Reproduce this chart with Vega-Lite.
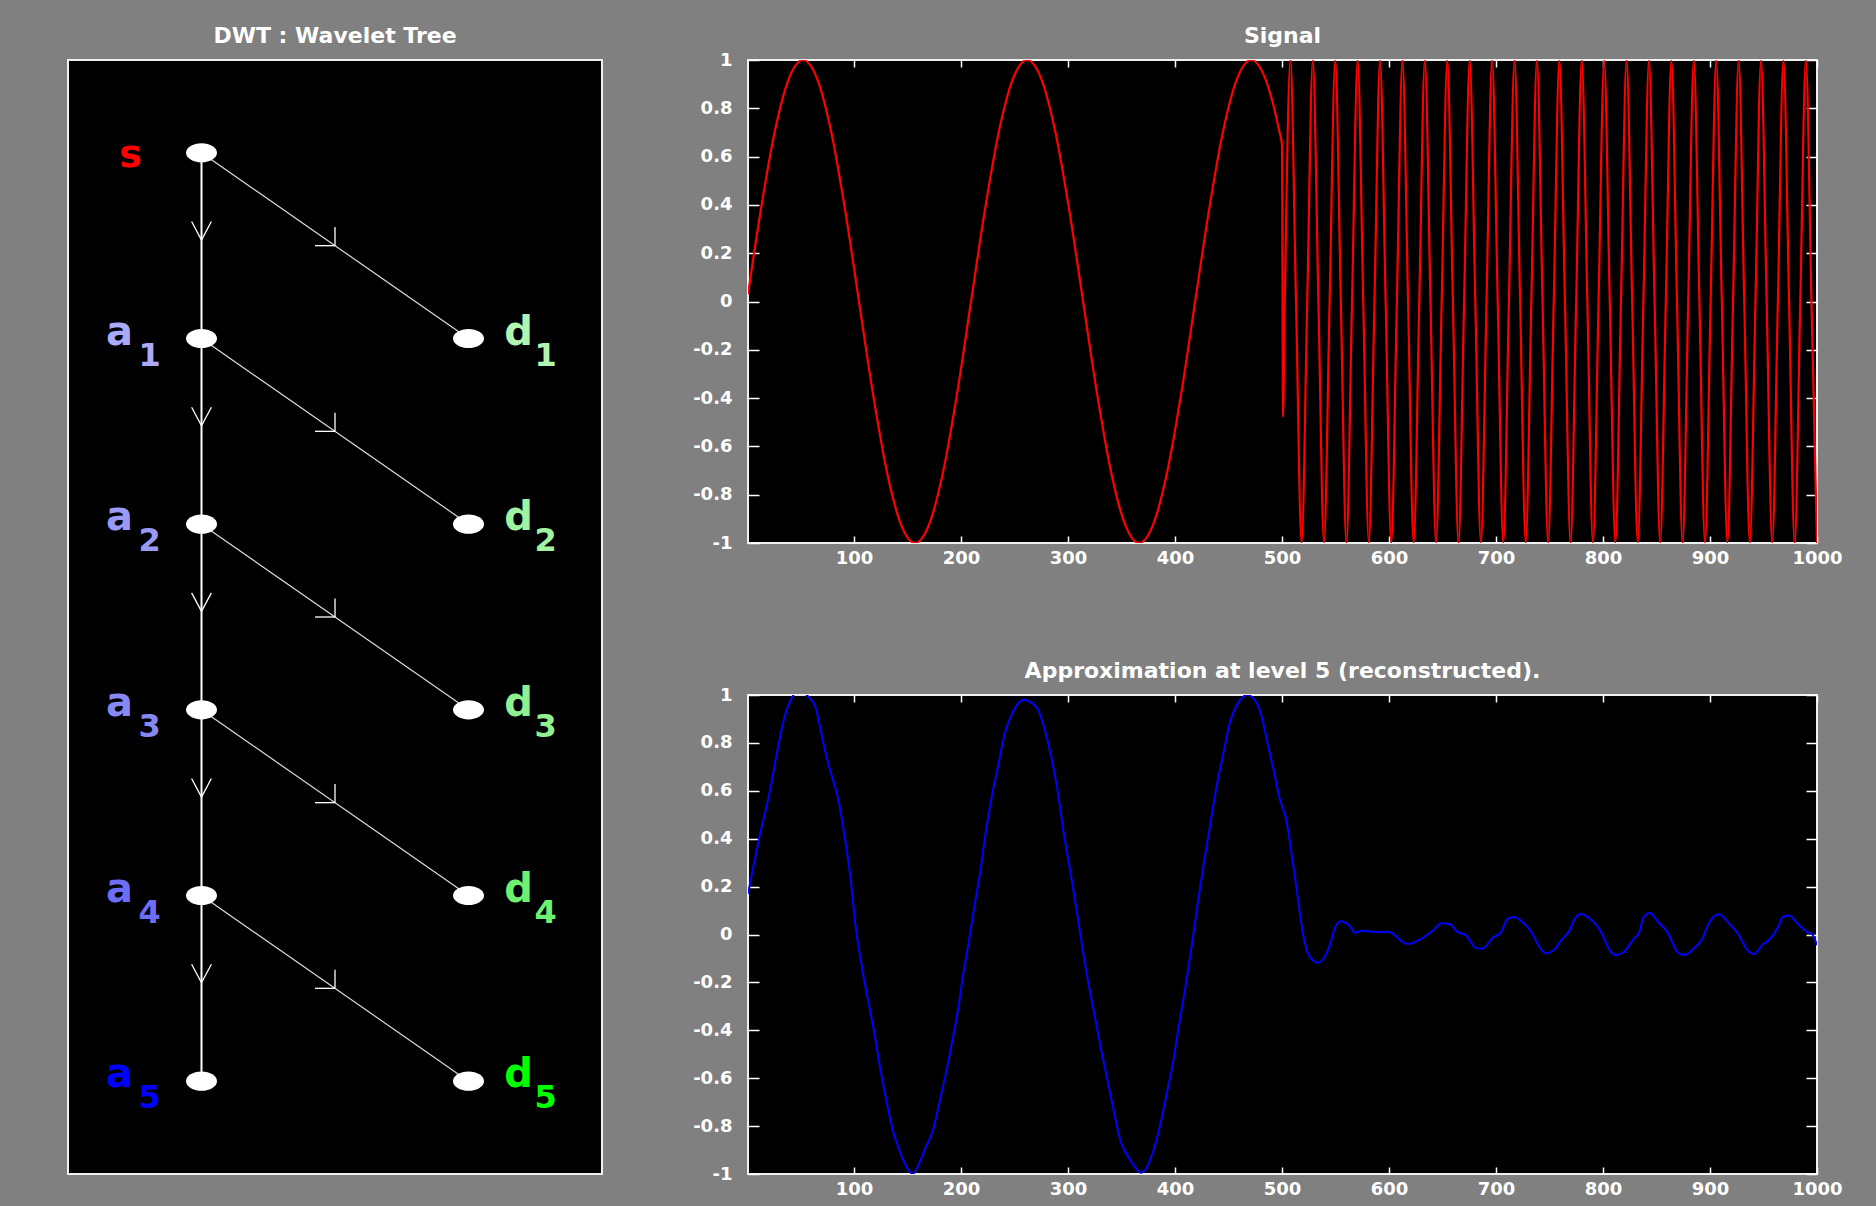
{
  "$schema": "https://vega.github.io/schema/vega-lite/v6.json",
  "background": "#808080",
  "padding": {"left": 67, "top": 24, "right": 45, "bottom": 15},
  "config": {
    "view": {"fill": "#000000", "stroke": "#f0f0f0", "strokeWidth": 2},
    "font": "DejaVu Sans",
    "title": {"color": "#ffffff", "fontSize": 22, "fontWeight": "bold", "font": "DejaVu Sans", "anchor": "middle", "baseline": "alphabetic", "offset": 3},
    "axis": {"labelColor": "#ffffff", "labelFont": "DejaVu Sans", "labelFontSize": 18, "labelFontWeight": "bold", "tickColor": "#ffffff", "tickWidth": 1.5, "domain": false, "grid": false, "labelFlush": false, "labelOverlap": false}
  },
  "datasets": {
    "signal": [
      {"t": 1, "v": 0.03}, {"t": 13.09, "v": 0.3827}, {"t": 26.18, "v": 0.7071}, {"t": 39.27, "v": 0.9239}, {"t": 52.36, "v": 1},
      {"t": 65.45, "v": 0.9239}, {"t": 78.54, "v": 0.7071}, {"t": 91.63, "v": 0.3827}, {"t": 104.72, "v": 0}, {"t": 117.81, "v": -0.3827},
      {"t": 130.9, "v": -0.7071}, {"t": 143.99, "v": -0.9239}, {"t": 157.08, "v": -1}, {"t": 170.17, "v": -0.9239}, {"t": 183.26, "v": -0.7071},
      {"t": 196.35, "v": -0.3827}, {"t": 209.44, "v": 0}, {"t": 222.53, "v": 0.3827}, {"t": 235.62, "v": 0.7071}, {"t": 248.71, "v": 0.9239},
      {"t": 261.8, "v": 1}, {"t": 274.89, "v": 0.9239}, {"t": 287.98, "v": 0.7071}, {"t": 301.07, "v": 0.3827}, {"t": 314.16, "v": 0},
      {"t": 327.25, "v": -0.3827}, {"t": 340.34, "v": -0.7071}, {"t": 353.43, "v": -0.9239}, {"t": 366.52, "v": -1}, {"t": 379.61, "v": -0.9239},
      {"t": 392.7, "v": -0.7071}, {"t": 405.79, "v": -0.3827}, {"t": 418.88, "v": 0}, {"t": 431.97, "v": 0.3827}, {"t": 445.06, "v": 0.7071},
      {"t": 458.15, "v": 0.9239}, {"t": 471.24, "v": 1}, {"t": 484.33, "v": 0.9239}, {"t": 497.42, "v": 0.7071}, {"t": 500, "v": 0.65},
      {"t": 501, "v": -0.478},
      {"t": 502.65, "v": 0}, {"t": 507.89, "v": 1}, {"t": 513.13, "v": 0}, {"t": 518.36, "v": -1},
      {"t": 523.6, "v": 0}, {"t": 528.84, "v": 1}, {"t": 534.07, "v": 0}, {"t": 539.31, "v": -1},
      {"t": 544.54, "v": 0}, {"t": 549.78, "v": 1}, {"t": 555.02, "v": 0}, {"t": 560.25, "v": -1},
      {"t": 565.49, "v": 0}, {"t": 570.73, "v": 1}, {"t": 575.96, "v": 0}, {"t": 581.19, "v": -1},
      {"t": 586.43, "v": 0}, {"t": 591.67, "v": 1}, {"t": 596.9, "v": 0}, {"t": 602.14, "v": -1},
      {"t": 607.37, "v": 0}, {"t": 612.61, "v": 1}, {"t": 617.85, "v": 0}, {"t": 623.08, "v": -1},
      {"t": 628.32, "v": 0}, {"t": 633.55, "v": 1}, {"t": 638.79, "v": 0}, {"t": 644.03, "v": -1},
      {"t": 649.26, "v": 0}, {"t": 654.5, "v": 1}, {"t": 659.73, "v": 0}, {"t": 664.97, "v": -1},
      {"t": 670.21, "v": 0}, {"t": 675.44, "v": 1}, {"t": 680.68, "v": 0}, {"t": 685.91, "v": -1},
      {"t": 691.15, "v": 0}, {"t": 696.39, "v": 1}, {"t": 701.62, "v": 0}, {"t": 706.86, "v": -1},
      {"t": 712.09, "v": 0}, {"t": 717.33, "v": 1}, {"t": 722.57, "v": 0}, {"t": 727.8, "v": -1},
      {"t": 733.04, "v": 0}, {"t": 738.27, "v": 1}, {"t": 743.51, "v": 0}, {"t": 748.75, "v": -1},
      {"t": 753.98, "v": 0}, {"t": 759.22, "v": 1}, {"t": 764.45, "v": 0}, {"t": 769.69, "v": -1},
      {"t": 774.93, "v": 0}, {"t": 780.16, "v": 1}, {"t": 785.4, "v": 0}, {"t": 790.63, "v": -1},
      {"t": 795.87, "v": 0}, {"t": 801.11, "v": 1}, {"t": 806.34, "v": 0}, {"t": 811.58, "v": -1},
      {"t": 816.81, "v": 0}, {"t": 822.05, "v": 1}, {"t": 827.29, "v": 0}, {"t": 832.52, "v": -1},
      {"t": 837.76, "v": 0}, {"t": 842.99, "v": 1}, {"t": 848.23, "v": 0}, {"t": 853.47, "v": -1},
      {"t": 858.7, "v": 0}, {"t": 863.94, "v": 1}, {"t": 869.17, "v": 0}, {"t": 874.41, "v": -1},
      {"t": 879.65, "v": 0}, {"t": 884.88, "v": 1}, {"t": 890.12, "v": 0}, {"t": 895.35, "v": -1},
      {"t": 900.59, "v": 0}, {"t": 905.83, "v": 1}, {"t": 911.06, "v": 0}, {"t": 916.3, "v": -1},
      {"t": 921.53, "v": 0}, {"t": 926.77, "v": 1}, {"t": 932.01, "v": 0}, {"t": 937.24, "v": -1},
      {"t": 942.48, "v": 0}, {"t": 947.71, "v": 1}, {"t": 952.95, "v": 0}, {"t": 958.19, "v": -1},
      {"t": 963.42, "v": 0}, {"t": 968.66, "v": 1}, {"t": 973.89, "v": 0}, {"t": 979.13, "v": -1},
      {"t": 984.37, "v": 0}, {"t": 989.6, "v": 1}, {"t": 994.84, "v": 0}, {"t": 1000, "v": -1}
    ],
    "approx": [
      {"t": 1, "v": 0.17}, {"t": 5, "v": 0.26}, {"t": 12.8, "v": 0.43}, {"t": 20.6, "v": 0.58}, {"t": 27.7, "v": 0.75},
      {"t": 34.4, "v": 0.895}, {"t": 41, "v": 0.98}, {"t": 46, "v": 1.01}, {"t": 52, "v": 1.01}, {"t": 58, "v": 0.99},
      {"t": 64, "v": 0.95}, {"t": 70, "v": 0.83}, {"t": 75.6, "v": 0.72}, {"t": 85.5, "v": 0.56}, {"t": 93, "v": 0.36},
      {"t": 97, "v": 0.23}, {"t": 101, "v": 0.055}, {"t": 107, "v": -0.125}, {"t": 113, "v": -0.27}, {"t": 119, "v": -0.41},
      {"t": 125, "v": -0.57}, {"t": 130.6, "v": -0.7}, {"t": 136.5, "v": -0.82}, {"t": 142.4, "v": -0.9}, {"t": 148, "v": -0.96},
      {"t": 155, "v": -1.0}, {"t": 160, "v": -0.965}, {"t": 166, "v": -0.9}, {"t": 174, "v": -0.815}, {"t": 180, "v": -0.7},
      {"t": 185.7, "v": -0.585}, {"t": 191.5, "v": -0.455}, {"t": 197.4, "v": -0.31}, {"t": 202, "v": -0.17}, {"t": 207, "v": -0.04},
      {"t": 213, "v": 0.13}, {"t": 218, "v": 0.26}, {"t": 223, "v": 0.42}, {"t": 229, "v": 0.58}, {"t": 235, "v": 0.71},
      {"t": 241, "v": 0.84}, {"t": 246.6, "v": 0.91}, {"t": 252.6, "v": 0.96}, {"t": 259.5, "v": 0.98}, {"t": 266, "v": 0.967},
      {"t": 272, "v": 0.94}, {"t": 278, "v": 0.86}, {"t": 284, "v": 0.75}, {"t": 290, "v": 0.61}, {"t": 295.7, "v": 0.435},
      {"t": 301.6, "v": 0.28}, {"t": 307.5, "v": 0.12}, {"t": 313, "v": -0.04}, {"t": 319, "v": -0.2}, {"t": 325, "v": -0.34},
      {"t": 331, "v": -0.48}, {"t": 337, "v": -0.61}, {"t": 343, "v": -0.74}, {"t": 349, "v": -0.86}, {"t": 356.6, "v": -0.93},
      {"t": 362.5, "v": -0.97}, {"t": 368.4, "v": -0.995}, {"t": 374, "v": -0.97}, {"t": 380, "v": -0.9}, {"t": 386, "v": -0.8},
      {"t": 392, "v": -0.67}, {"t": 398, "v": -0.54}, {"t": 403.7, "v": -0.38}, {"t": 409.6, "v": -0.225}, {"t": 415.5, "v": -0.053},
      {"t": 421.4, "v": 0.134}, {"t": 427.3, "v": 0.306}, {"t": 433, "v": 0.46}, {"t": 439, "v": 0.62}, {"t": 445, "v": 0.75},
      {"t": 451, "v": 0.88}, {"t": 457, "v": 0.95}, {"t": 463, "v": 0.99}, {"t": 467.4, "v": 1.0}, {"t": 474.5, "v": 0.98},
      {"t": 480.4, "v": 0.92}, {"t": 486, "v": 0.81}, {"t": 492, "v": 0.69}, {"t": 498, "v": 0.565}, {"t": 504, "v": 0.48},
      {"t": 510, "v": 0.306}, {"t": 514, "v": 0.18}, {"t": 519, "v": 0.02}, {"t": 523.5, "v": -0.07}, {"t": 529.5, "v": -0.11},
      {"t": 533.4, "v": -0.118}, {"t": 539, "v": -0.1}, {"t": 545, "v": -0.04}, {"t": 549, "v": 0.02}, {"t": 555, "v": 0.055},
      {"t": 565, "v": 0.026}, {"t": 568, "v": 0.007}, {"t": 575, "v": 0.016}, {"t": 590, "v": 0.01}, {"t": 599, "v": 0.011},
      {"t": 617.5, "v": -0.04}, {"t": 625, "v": -0.03}, {"t": 642, "v": 0.02}, {"t": 649, "v": 0.047}, {"t": 657, "v": 0.043},
      {"t": 664, "v": 0.011}, {"t": 672, "v": -0.003}, {"t": 681, "v": -0.056}, {"t": 687, "v": -0.06}, {"t": 698, "v": -0.01},
      {"t": 704, "v": 0.004}, {"t": 711, "v": 0.066}, {"t": 717, "v": 0.073}, {"t": 724, "v": 0.055}, {"t": 734, "v": 0.004},
      {"t": 739, "v": -0.04}, {"t": 747, "v": -0.079}, {"t": 754, "v": -0.065}, {"t": 761, "v": -0.024}, {"t": 769, "v": 0.019},
      {"t": 774, "v": 0.069}, {"t": 780, "v": 0.086}, {"t": 787, "v": 0.069}, {"t": 799, "v": 0.004}, {"t": 804.5, "v": -0.053},
      {"t": 812, "v": -0.086}, {"t": 819, "v": -0.075}, {"t": 829, "v": -0.017}, {"t": 834, "v": 0.011}, {"t": 838, "v": 0.073},
      {"t": 844, "v": 0.09}, {"t": 851, "v": 0.055}, {"t": 860, "v": 0.011}, {"t": 870, "v": -0.075}, {"t": 876, "v": -0.086},
      {"t": 884.5, "v": -0.06}, {"t": 892, "v": -0.024}, {"t": 899, "v": 0.047}, {"t": 903, "v": 0.073}, {"t": 908.6, "v": 0.085},
      {"t": 916, "v": 0.055}, {"t": 927, "v": -0.003}, {"t": 935, "v": -0.065}, {"t": 941, "v": -0.082}, {"t": 949.6, "v": -0.04},
      {"t": 955, "v": -0.024}, {"t": 964.6, "v": 0.04}, {"t": 968, "v": 0.073}, {"t": 974, "v": 0.079}, {"t": 981, "v": 0.05},
      {"t": 990.7, "v": 0.011}, {"t": 995.5, "v": 0.001}, {"t": 1000, "v": -0.045}
    ],
    "segments": [
      {"part": "trunk", "x": 0, "y": 0, "x2": 0, "y2": 5},
      {"part": "branch", "x": 0, "y": 0, "x2": 1, "y2": 1},
      {"part": "branch", "x": 0, "y": 1, "x2": 1, "y2": 2},
      {"part": "branch", "x": 0, "y": 2, "x2": 1, "y2": 3},
      {"part": "branch", "x": 0, "y": 3, "x2": 1, "y2": 4},
      {"part": "branch", "x": 0, "y": 4, "x2": 1, "y2": 5},
      {"part": "arrow", "x": 0, "y": 0.47, "x2": -0.037, "y2": 0.37},
      {"part": "arrow", "x": 0, "y": 0.47, "x2": 0.037, "y2": 0.37},
      {"part": "arrow", "x": 0, "y": 1.47, "x2": -0.037, "y2": 1.37},
      {"part": "arrow", "x": 0, "y": 1.47, "x2": 0.037, "y2": 1.37},
      {"part": "arrow", "x": 0, "y": 2.47, "x2": -0.037, "y2": 2.37},
      {"part": "arrow", "x": 0, "y": 2.47, "x2": 0.037, "y2": 2.37},
      {"part": "arrow", "x": 0, "y": 3.47, "x2": -0.037, "y2": 3.37},
      {"part": "arrow", "x": 0, "y": 3.47, "x2": 0.037, "y2": 3.37},
      {"part": "arrow", "x": 0, "y": 4.47, "x2": -0.037, "y2": 4.37},
      {"part": "arrow", "x": 0, "y": 4.47, "x2": 0.037, "y2": 4.37},
      {"part": "arrow", "x": 0.5, "y": 0.5, "x2": 0.425, "y2": 0.5},
      {"part": "arrow", "x": 0.5, "y": 0.5, "x2": 0.5, "y2": 0.4},
      {"part": "arrow", "x": 0.5, "y": 1.5, "x2": 0.425, "y2": 1.5},
      {"part": "arrow", "x": 0.5, "y": 1.5, "x2": 0.5, "y2": 1.4},
      {"part": "arrow", "x": 0.5, "y": 2.5, "x2": 0.425, "y2": 2.5},
      {"part": "arrow", "x": 0.5, "y": 2.5, "x2": 0.5, "y2": 2.4},
      {"part": "arrow", "x": 0.5, "y": 3.5, "x2": 0.425, "y2": 3.5},
      {"part": "arrow", "x": 0.5, "y": 3.5, "x2": 0.5, "y2": 3.4},
      {"part": "arrow", "x": 0.5, "y": 4.5, "x2": 0.425, "y2": 4.5},
      {"part": "arrow", "x": 0.5, "y": 4.5, "x2": 0.5, "y2": 4.4}
    ],
    "nodes": [
      {"col": 0, "level": 0, "name": "s", "letter": "s", "sub": ""},
      {"col": 0, "level": 1, "name": "a1", "letter": "a", "sub": "1"},
      {"col": 0, "level": 2, "name": "a2", "letter": "a", "sub": "2"},
      {"col": 0, "level": 3, "name": "a3", "letter": "a", "sub": "3"},
      {"col": 0, "level": 4, "name": "a4", "letter": "a", "sub": "4"},
      {"col": 0, "level": 5, "name": "a5", "letter": "a", "sub": "5"},
      {"col": 1, "level": 1, "name": "d1", "letter": "d", "sub": "1"},
      {"col": 1, "level": 2, "name": "d2", "letter": "d", "sub": "2"},
      {"col": 1, "level": 3, "name": "d3", "letter": "d", "sub": "3"},
      {"col": 1, "level": 4, "name": "d4", "letter": "d", "sub": "4"},
      {"col": 1, "level": 5, "name": "d5", "letter": "d", "sub": "5"}
    ]
  },
  "bounds": "flush",
  "spacing": 146,
  "hconcat": [
    {
      "title": {"text": "DWT : Wavelet Tree", "offset": 12},
      "width": 534,
      "height": 1114,
      "layer": [
        {
          "data": {"name": "segments"},
          "transform": [{"filter": "datum.part === 'trunk'"}],
          "mark": {"type": "rule", "color": "#ffffff", "strokeWidth": 2},
          "encoding": {
            "x": {"field": "x", "type": "quantitative", "scale": {"domain": [-0.5, 1.5], "nice": false, "zero": false}, "axis": null},
            "y": {"field": "y", "type": "quantitative", "scale": {"domain": [-0.5, 5.5], "nice": false, "zero": false, "reverse": true}, "axis": null},
            "x2": {"field": "x2"},
            "y2": {"field": "y2"}
          }
        },
        {
          "data": {"name": "segments"},
          "transform": [{"filter": "datum.part === 'branch'"}],
          "mark": {"type": "rule", "color": "#dcdcdc", "strokeWidth": 1.2},
          "encoding": {
            "x": {"field": "x", "type": "quantitative", "axis": null},
            "y": {"field": "y", "type": "quantitative", "axis": null},
            "x2": {"field": "x2"},
            "y2": {"field": "y2"}
          }
        },
        {
          "data": {"name": "segments"},
          "transform": [{"filter": "datum.part === 'arrow'"}],
          "mark": {"type": "rule", "color": "#ffffff", "strokeWidth": 1.3},
          "encoding": {
            "x": {"field": "x", "type": "quantitative", "axis": null},
            "y": {"field": "y", "type": "quantitative", "axis": null},
            "x2": {"field": "x2"},
            "y2": {"field": "y2"}
          }
        },
        {
          "data": {"name": "nodes"},
          "mark": {"type": "point", "filled": true, "opacity": 1, "color": "#ffffff", "size": 961, "shape": "M -1 0 A 1 0.62 0 1 1 1 0 A 1 0.62 0 1 1 -1 0 Z"},
          "encoding": {
            "x": {"field": "col", "type": "quantitative", "axis": null},
            "y": {"field": "level", "type": "quantitative", "axis": null}
          }
        },
        {
          "data": {"name": "nodes"},
          "transform": [{"filter": "datum.level === 0"}],
          "mark": {"type": "text", "font": "DejaVu Sans", "fontWeight": "bold", "fontSize": 38, "align": "center", "baseline": "alphabetic", "dx": -71, "dy": 14},
          "encoding": {
            "x": {"field": "col", "type": "quantitative", "axis": null},
            "y": {"field": "level", "type": "quantitative", "axis": null},
            "text": {"field": "letter"},
            "color": {"field": "name", "type": "nominal", "legend": null, "scale": {"domain": ["s", "a1", "a2", "a3", "a4", "a5", "d1", "d2", "d3", "d4", "d5"], "range": ["#ff0000", "#aaaaf8", "#9a9af5", "#8888f2", "#6e6ef5", "#0000ff", "#b0f5b0", "#a0f3a0", "#90f090", "#70f070", "#00ff00"]}}
          }
        },
        {
          "data": {"name": "nodes"},
          "transform": [{"filter": "datum.col === 0 && datum.level > 0"}],
          "mark": {"type": "text", "font": "DejaVu Sans", "fontWeight": "bold", "fontSize": 40, "align": "center", "baseline": "alphabetic", "dx": -82, "dy": 6},
          "encoding": {
            "x": {"field": "col", "type": "quantitative", "axis": null},
            "y": {"field": "level", "type": "quantitative", "axis": null},
            "text": {"field": "letter"},
            "color": {"field": "name", "type": "nominal", "legend": null}
          }
        },
        {
          "data": {"name": "nodes"},
          "transform": [{"filter": "datum.col === 0 && datum.level > 0"}],
          "mark": {"type": "text", "font": "DejaVu Sans", "fontWeight": "bold", "fontSize": 32, "align": "center", "baseline": "alphabetic", "dx": -52, "dy": 27},
          "encoding": {
            "x": {"field": "col", "type": "quantitative", "axis": null},
            "y": {"field": "level", "type": "quantitative", "axis": null},
            "text": {"field": "sub"},
            "color": {"field": "name", "type": "nominal", "legend": null}
          }
        },
        {
          "data": {"name": "nodes"},
          "transform": [{"filter": "datum.col === 1"}],
          "mark": {"type": "text", "font": "DejaVu Sans", "fontWeight": "bold", "fontSize": 40, "align": "center", "baseline": "alphabetic", "dx": 50, "dy": 6},
          "encoding": {
            "x": {"field": "col", "type": "quantitative", "axis": null},
            "y": {"field": "level", "type": "quantitative", "axis": null},
            "text": {"field": "letter"},
            "color": {"field": "name", "type": "nominal", "legend": null}
          }
        },
        {
          "data": {"name": "nodes"},
          "transform": [{"filter": "datum.col === 1"}],
          "mark": {"type": "text", "font": "DejaVu Sans", "fontWeight": "bold", "fontSize": 32, "align": "center", "baseline": "alphabetic", "dx": 77, "dy": 27},
          "encoding": {
            "x": {"field": "col", "type": "quantitative", "axis": null},
            "y": {"field": "level", "type": "quantitative", "axis": null},
            "text": {"field": "sub"},
            "color": {"field": "name", "type": "nominal", "legend": null}
          }
        }
      ]
    },
    {
      "bounds": "flush",
      "spacing": 152,
      "vconcat": [
        {
          "title": {"text": "Signal"},
          "width": 1069,
          "height": 483,
          "data": {"name": "signal"},
          "layer": [
            {
              "mark": {"type": "line", "color": "#ff0000", "strokeWidth": 2.2, "interpolate": "monotone", "clip": true},
              "encoding": {
                "x": {"field": "t", "type": "quantitative", "scale": {"domain": [1, 1000], "nice": false, "zero": false},
                      "axis": {"orient": "bottom", "title": null, "values": [100, 200, 300, 400, 500, 600, 700, 800, 900, 1000], "labelExpr": "'' + datum.value", "tickSize": 7, "offset": -7, "labelPadding": 6}},
                "y": {"field": "v", "type": "quantitative", "scale": {"domain": [-1, 1], "nice": false, "zero": false},
                      "axis": {"orient": "left", "title": null, "values": [-1, -0.8, -0.6, -0.4, -0.2, 0, 0.2, 0.4, 0.6, 0.8, 1], "labelExpr": "'' + datum.value", "tickSize": 11, "offset": -11, "labelPadding": 16}}
              }
            },
            {
              "mark": {"type": "point", "opacity": 0, "size": 1},
              "encoding": {
                "x": {"field": "t", "type": "quantitative", "axis": {"orient": "top", "title": null, "labels": false, "values": [100, 200, 300, 400, 500, 600, 700, 800, 900, 1000], "tickSize": 7, "offset": -7}},
                "y": {"field": "v", "type": "quantitative", "axis": {"orient": "right", "title": null, "labels": false, "values": [-1, -0.8, -0.6, -0.4, -0.2, 0, 0.2, 0.4, 0.6, 0.8, 1], "tickSize": 11, "offset": -11}}
              }
            }
          ],
          "resolve": {"axis": {"x": "independent", "y": "independent"}}
        },
        {
          "title": {"text": "Approximation at level 5 (reconstructed)."},
          "width": 1069,
          "height": 479,
          "data": {"name": "approx"},
          "layer": [
            {
              "mark": {"type": "line", "color": "#0000ff", "strokeWidth": 2, "interpolate": "monotone", "clip": true},
              "encoding": {
                "x": {"field": "t", "type": "quantitative", "scale": {"domain": [1, 1000], "nice": false, "zero": false},
                      "axis": {"orient": "bottom", "title": null, "values": [100, 200, 300, 400, 500, 600, 700, 800, 900, 1000], "labelExpr": "'' + datum.value", "tickSize": 7, "offset": -7, "labelPadding": 6}},
                "y": {"field": "v", "type": "quantitative", "scale": {"domain": [-1, 1], "nice": false, "zero": false},
                      "axis": {"orient": "left", "title": null, "values": [-1, -0.8, -0.6, -0.4, -0.2, 0, 0.2, 0.4, 0.6, 0.8, 1], "labelExpr": "'' + datum.value", "tickSize": 11, "offset": -11, "labelPadding": 16}}
              }
            },
            {
              "mark": {"type": "point", "opacity": 0, "size": 1},
              "encoding": {
                "x": {"field": "t", "type": "quantitative", "axis": {"orient": "top", "title": null, "labels": false, "values": [100, 200, 300, 400, 500, 600, 700, 800, 900, 1000], "tickSize": 7, "offset": -7}},
                "y": {"field": "v", "type": "quantitative", "axis": {"orient": "right", "title": null, "labels": false, "values": [-1, -0.8, -0.6, -0.4, -0.2, 0, 0.2, 0.4, 0.6, 0.8, 1], "tickSize": 11, "offset": -11}}
              }
            }
          ],
          "resolve": {"axis": {"x": "independent", "y": "independent"}}
        }
      ]
    }
  ]
}
